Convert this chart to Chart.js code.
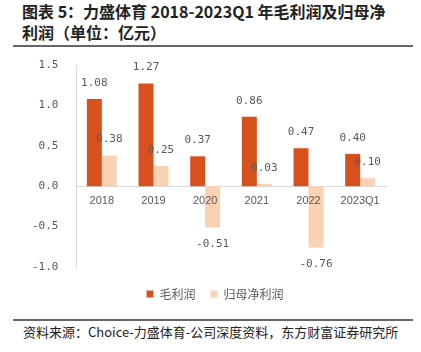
<!DOCTYPE html>
<html>
<head>
<meta charset="utf-8">
<script src="https://cdn.jsdelivr.net/npm/chart.js@4/dist/chart.umd.min.js"></script>
<style>
  body{margin:0;background:#fff;width:421px;height:352px;overflow:hidden;position:relative;}
  .title{position:absolute;left:22px;top:1px;font-family:"Noto Sans CJK SC";font-weight:bold;font-size:16px;line-height:21px;color:#222;}
  .rule{position:absolute;left:13px;width:400px;height:2px;background:#666;}
  .source{position:absolute;left:23px;top:322px;font-family:"Noto Sans CJK SC";font-size:13px;color:#222;}
  #wrap{position:absolute;left:0;top:42px;width:421px;height:272px;}
</style>
</head>
<body>
<div class="title">图表 5：力盛体育 2018-2023Q1 年毛利润及归母净<br>利润（单位：亿元）</div>
<div class="rule" style="top:45px"></div>
<div id="wrap"><canvas id="c"></canvas></div>
<div class="rule" style="top:319px"></div>
<div class="source">资料来源：Choice-力盛体育-公司深度资料，东方财富证券研究所</div>
<script>
var years = ["2018", "2019", "2020", "2021", "2022", "2023Q1"];
var grossProfit = [1.08, 1.27, 0.37, 0.86, 0.47, 0.40];
var netProfit = [0.38, 0.25, -0.51, 0.03, -0.76, 0.10];
var seriesNames = ["毛利润", "归母净利润"];
var yTicks = [-1.0, -0.5, 0.0, 0.5, 1.0, 1.5];

var grey = "#595959";
var numFont = "DejaVu Sans Mono";

// value labels over / under each bar
var barLabels = {
  id: "barLabels",
  afterDatasetsDraw: function(chart){
    var ctx = chart.ctx;
    ctx.save();
    ctx.font = "11px " + numFont;
    ctx.fillStyle = grey;
    ctx.textAlign = "center";
    ctx.textBaseline = "middle";
    chart.data.datasets.forEach(function(ds, i){
      chart.getDatasetMeta(i).data.forEach(function(el, j){
        var v = ds.data[j];
        var y = v >= 0 ? el.y - 16 : el.y + 17;
        ctx.fillText(v.toFixed(2), el.x, y);
      });
    });
    ctx.restore();
  }
};

new Chart(document.getElementById("c"), {
  type: "bar",
  data: {
    labels: years,
    datasets: [{
      label: seriesNames[0],
      data: grossProfit,
      backgroundColor: "#D9501F"
    }, {
      label: seriesNames[1],
      data: netProfit,
      backgroundColor: "#F9D2B3"
    }]
  },
  options: {
    responsive: true,
    maintainAspectRatio: false,
    animation: false,
    categoryPercentage: 0.58,
    barPercentage: 1.0,
    // left padding keeps the legend centred like the original
    layout: {padding: {top: 23, right: 35, left: 44, bottom: 4}},
    plugins: {
      legend: {
        position: "bottom",
        // blank title only adds a little space above the legend items
        title: {display: true, text: " ", padding: 0, font: {size: 5}},
        labels: {
          boxWidth: 7,
          boxHeight: 7,
          padding: 15,
          color: grey,
          font: {size: 12, family: "Noto Sans CJK SC"}
        }
      },
      tooltip: {enabled: false}
    },
    scales: {
      x: {
        position: {y: 0},
        grid: {display: false, drawTicks: false},
        border: {display: true, color: "#d9d9d9", width: 1},
        ticks: {z: 1, color: grey, padding: 8, font: {size: 11, family: "Liberation Sans"}}
      },
      y: {
        min: -1,
        max: 1.5,
        afterFit: function(scale){ scale.width = 32; },
        afterBuildTicks: function(scale){
          scale.ticks = yTicks.map(function(v){ return {value: v}; });
        },
        grid: {display: false, drawTicks: false},
        border: {display: true, color: "#d9d9d9", width: 1},
        ticks: {
          mirror: true,
          padding: -44,
          color: grey,
          font: {size: 11, family: numFont},
          callback: function(v){
            var s = Number(v).toFixed(1);
            return s.length < 4 ? " " + s : s;
          }
        }
      }
    }
  },
  plugins: [barLabels]
});
</script>
</body>
</html>
